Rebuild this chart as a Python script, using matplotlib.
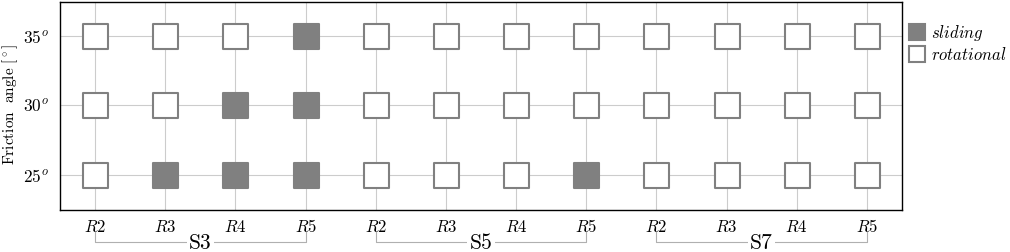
import matplotlib
matplotlib.use("Agg")
import matplotlib.pyplot as plt
from matplotlib.lines import Line2D
import numpy as np

plt.rcParams['mathtext.fontset'] = 'cm'

scenarios = ['S3', 'S5', 'S7']
rows = ['R2', 'R3', 'R4', 'R5']
angles = [25, 30, 35]
# 1 = sliding, 0 = rotational ; columns S3R2..S3R5, S5R2..S5R5, S7R2..S7R5
mode_25 = [0, 1, 1, 1, 0, 0, 0, 1, 0, 0, 0, 0]
mode_30 = [0, 0, 1, 1, 0, 0, 0, 0, 0, 0, 0, 0]
mode_35 = [0, 0, 0, 1, 0, 0, 0, 0, 0, 0, 0, 0]
modes = {25: mode_25, 30: mode_30, 35: mode_35}

grey = '#808080'
fig = plt.figure(figsize=(10.1, 2.52), dpi=100)
ax = fig.add_axes([60/1010, 42/252, 842/1010, 208/252])

ncol = len(scenarios) * len(rows)
xs = np.arange(ncol)
ax.set_axisbelow(True)
ax.grid(True, color='#cccccc', linewidth=0.8)
for a in angles:
    m = np.array(modes[a])
    ax.scatter(xs[m == 1], [a]*int((m == 1).sum()), marker='s', s=18**2,
               facecolor=grey, edgecolor=grey, linewidths=1.5, zorder=3)
    ax.scatter(xs[m == 0], [a]*int((m == 0).sum()), marker='s', s=18**2,
               facecolor='white', edgecolor=grey, linewidths=1.5, zorder=3)

ax.set_xlim(-0.5, ncol - 0.5)
ax.set_ylim(22.5, 37.4)
ax.set_xticks(xs)
ax.set_xticklabels([r'$%s$' % r for s in scenarios for r in rows], fontsize=12)
ax.set_yticks(angles)
ax.set_yticklabels([r'$%d^o$' % a for a in angles], fontsize=12.5)
ax.tick_params(axis='x', length=0, pad=6)
ax.tick_params(axis='y', length=0, pad=8)
for sp in ax.spines.values():
    sp.set_linewidth(1.0)

fig.text(10/1010, 1 - 105/252, r'$\mathrm{Friction\ \ angle\ [^\circ]}$',
         rotation=90, ha='center', va='center', fontsize=11)

# group brackets
trans = ax.get_xaxis_transform()
for i, s in enumerate(scenarios):
    x0, x1 = i*4, i*4 + 3
    ax.plot([x0, x0, x1, x1], [-0.105, -0.155, -0.155, -0.105], color='#b0b0b0',
            linewidth=0.8, transform=trans, clip_on=False)
    ax.text((x0 + x1)/2, -0.16, s, transform=trans, ha='center', va='center',
            fontsize=15.5, family='cmr10',
            bbox=dict(facecolor='white', edgecolor='none', pad=1.5))

handles = [Line2D([], [], marker='s', linestyle='none', markersize=11,
                  markerfacecolor=grey, markeredgecolor=grey, markeredgewidth=1.5),
           Line2D([], [], marker='s', linestyle='none', markersize=11,
                  markerfacecolor='white', markeredgecolor=grey, markeredgewidth=1.5)]
ax.legend(handles, [r'$sliding$', r'$rotational$'], loc='upper left',
          bbox_to_anchor=(1.004, 0.915), frameon=False, fontsize=12,
          handletextpad=0.35, labelspacing=0.15, borderaxespad=0.0,
          borderpad=0.2, handlelength=1.0)

fig.savefig('out.png', dpi=100)
